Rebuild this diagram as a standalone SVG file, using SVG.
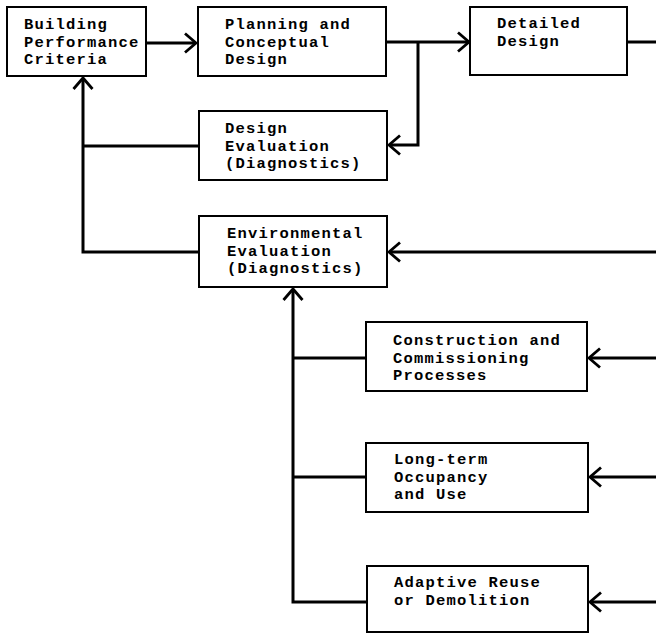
<svg xmlns="http://www.w3.org/2000/svg" width="656" height="634" viewBox="0 0 656 634">
<style>
.box{fill:#fff;stroke:#000;stroke-width:2}
.t{font-family:"Liberation Mono","Courier New",monospace;font-weight:bold;font-size:15.5px;letter-spacing:1.2px;fill:#000}
.c{fill:none;stroke:#000;stroke-width:3}
</style>
<defs>
<marker id="ah" markerUnits="userSpaceOnUse" markerWidth="30" markerHeight="30" viewBox="-15 -15 30 30" refX="0" refY="0" orient="auto">
<path d="M-11,-9.5 L0,0 L-11,9.5" fill="none" stroke="#000" stroke-width="2.8"/>
</marker>
</defs>
<rect width="656" height="634" fill="#fff"/>
<g id="connectors">
<line class="c" x1="146" y1="43" x2="196" y2="43" marker-end="url(#ah)"/>
<line class="c" x1="386" y1="42" x2="469" y2="42" marker-end="url(#ah)"/>
<polyline class="c" points="418,42 418,145 389,145" marker-end="url(#ah)"/>
<line class="c" x1="627" y1="42" x2="656" y2="42"/>
<polyline class="c" points="199,252 83,252 83,78" marker-end="url(#ah)"/>
<line class="c" x1="83" y1="146" x2="199" y2="146"/>
<line class="c" x1="656" y1="252" x2="389" y2="252" marker-end="url(#ah)"/>
<polyline class="c" points="366,602 293,602 293,289" marker-end="url(#ah)"/>
<line class="c" x1="293" y1="358" x2="366" y2="358"/>
<line class="c" x1="293" y1="477" x2="366" y2="477"/>
<line class="c" x1="656" y1="358" x2="589" y2="358" marker-end="url(#ah)"/>
<line class="c" x1="656" y1="477" x2="590" y2="477" marker-end="url(#ah)"/>
<line class="c" x1="656" y1="602" x2="590" y2="602" marker-end="url(#ah)"/>
</g>
<g id="building-performance-criteria">
<rect class="box" x="7" y="7" width="139" height="69"/>
<text class="t" x="24" y="29">Building</text>
<text class="t" x="24" y="46.5">Performance</text>
<text class="t" x="24" y="64">Criteria</text>
</g>
<g id="planning-conceptual-design">
<rect class="box" x="198" y="7" width="188" height="69"/>
<text class="t" x="225" y="29">Planning and</text>
<text class="t" x="225" y="46.5">Conceptual</text>
<text class="t" x="225" y="64">Design</text>
</g>
<g id="detailed-design">
<rect class="box" x="470" y="7" width="157" height="68"/>
<text class="t" x="497" y="28">Detailed</text>
<text class="t" x="497" y="45.5">Design</text>
</g>
<g id="design-evaluation">
<rect class="box" x="199" y="111" width="188" height="69"/>
<text class="t" x="225" y="133">Design</text>
<text class="t" x="225" y="150.5">Evaluation</text>
<text class="t" x="225" y="168">(Diagnostics)</text>
</g>
<g id="environmental-evaluation">
<rect class="box" x="199" y="216" width="188" height="71"/>
<text class="t" x="227" y="238">Environmental</text>
<text class="t" x="227" y="255.5">Evaluation</text>
<text class="t" x="227" y="273">(Diagnostics)</text>
</g>
<g id="construction-commissioning">
<rect class="box" x="366" y="322" width="221" height="69"/>
<text class="t" x="393" y="345">Construction and</text>
<text class="t" x="393" y="362.5">Commissioning</text>
<text class="t" x="393" y="380">Processes</text>
</g>
<g id="long-term-occupancy">
<rect class="box" x="366" y="443" width="222" height="69"/>
<text class="t" x="394" y="464">Long-term</text>
<text class="t" x="394" y="481.5">Occupancy</text>
<text class="t" x="394" y="499">and Use</text>
</g>
<g id="adaptive-reuse">
<rect class="box" x="367" y="566" width="221" height="66"/>
<text class="t" x="394" y="587">Adaptive Reuse</text>
<text class="t" x="394" y="604.5">or Demolition</text>
</g>
</svg>
